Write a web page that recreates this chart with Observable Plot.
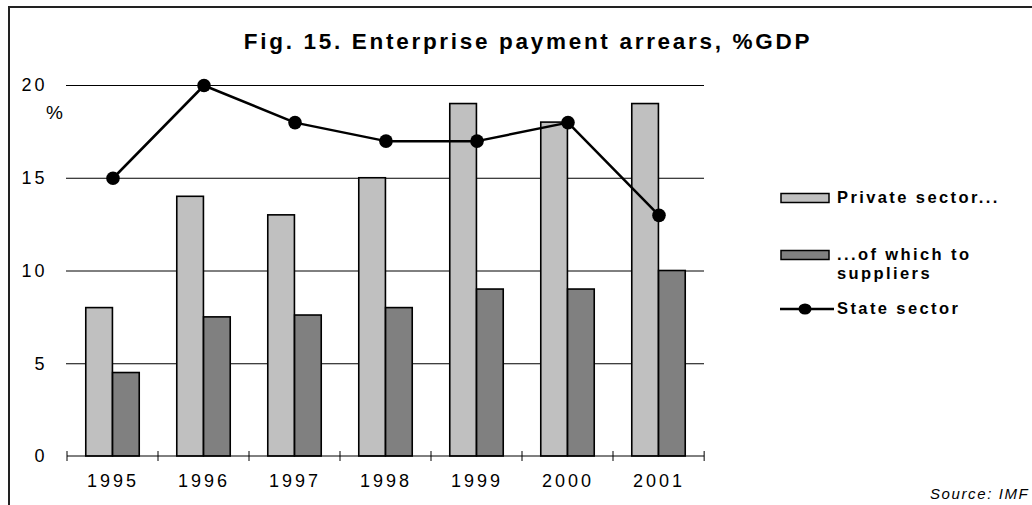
<!DOCTYPE html>
<html>
<head>
<meta charset="utf-8">
<script src="https://cdn.jsdelivr.net/npm/d3@7"></script>
<script src="https://cdn.jsdelivr.net/npm/@observablehq/plot@0.6"></script>
<style>
  body { margin: 0; background: #fff; font-family: "Liberation Sans", Arial, sans-serif; }
  #wrap { position: relative; width: 1032px; height: 505px; overflow: hidden; }
  #frame { position: absolute; left: 8px; top: 6px; width: 1100px; height: 600px; border: 2px solid #222; box-sizing: border-box; }
  #title { position: absolute; left: 0; width: 1056px; top: 29px; text-align: center; font-weight: bold; font-size: 22.5px; letter-spacing: 2.7px; line-height: 26px; }
  #pct { position: absolute; left: 46px; top: 102px; font-size: 19px; }
  #legend { position: absolute; left: 780px; top: 0; font-weight: bold; font-size: 16.5px; letter-spacing: 2.4px; }
  .item { position: absolute; white-space: nowrap; }
  .item svg { position: absolute; left: 0; }
  .item span { position: absolute; left: 57px; line-height: 19px; }
  #source { position: absolute; left: 930px; top: 485px; font-style: italic; font-size: 15px; letter-spacing: 1.6px; white-space: nowrap; }
  #chart svg text { letter-spacing: 3px; }
  #chart { position: absolute; left: 0; top: 0; }
</style>
</head>
<body>
<div id="wrap">
  <div id="frame"></div>
  <div id="chart"></div>
  <div id="title"></div>
  <div id="pct">%</div>
  <div id="legend"></div>
  <div id="source"></div>
</div>
<script>
const years = ["1995", "1996", "1997", "1998", "1999", "2000", "2001"];
const privateSector = [8, 14, 13, 15, 19, 18, 19];
const suppliers = [4.5, 7.5, 7.6, 8, 9, 9, 10];
const stateSector = [15, 20, 18, 17, 17, 18, 13];
const yTicks = [0, 5, 10, 15, 20];
const gridTicks = [5, 10, 15, 20];
const titleText = "Fig. 15. Enterprise payment arrears, %GDP";
const seriesNames = ["Private sector...", "...of which to\nsuppliers", "State sector"];
const sourceText = "Source: IMF";

const W = 1032, H = 505;
const mL = 66, mR = 328, mT = 85, mB = 49;
const bw = (W - mL - mR) / years.length;
const barW = 26.8;

const privData = years.map((y, i) => ({year: y, value: privateSector[i]}));
const supData = years.map((y, i) => ({year: y, value: suppliers[i]}));
const stateData = years.map((y, i) => ({year: y, value: stateSector[i]}));

function xAxisMark(index, scales, values, dimensions) {
  const g = d3.create("svg:g");
  const x = scales.x;
  const y0 = scales.y(0);
  const xs = years.map(y => x(y)).concat([x(years[years.length - 1]) + bw]);
  g.append("line")
    .attr("x1", xs[0]).attr("x2", xs[xs.length - 1])
    .attr("y1", y0).attr("y2", y0)
    .attr("stroke", "#000").attr("stroke-width", 1);
  for (const xv of xs) {
    g.append("line")
      .attr("x1", xv).attr("x2", xv)
      .attr("y1", y0 - 5).attr("y2", y0 + 5)
      .attr("stroke", "#000").attr("stroke-width", 1);
  }
  return g.node();
}

const chart = Plot.plot({
  width: W,
  height: H,
  marginLeft: mL,
  marginRight: mR,
  marginTop: mT,
  marginBottom: mB,
  style: {fontFamily: "Liberation Sans, Arial, sans-serif", fontSize: "18px", color: "#000", background: "transparent"},
  x: {type: "band", domain: years, padding: 0, label: null},
  y: {domain: [0, 20], label: null},
  marks: [
    Plot.ruleY(gridTicks, {stroke: "#000", strokeWidth: 1}),
    Plot.axisY(yTicks, {tickSize: 0, tickPadding: 19, fontSize: 18, label: null}),
    Plot.axisX({tickSize: 0, tickPadding: 18, fontSize: 18, label: null}),
    Plot.barY(privData, {x: "year", y: "value", fill: "#c0c0c0", stroke: "#000", strokeWidth: 1.6,
      insetLeft: bw / 2 - barW, insetRight: bw / 2}),
    Plot.barY(supData, {x: "year", y: "value", fill: "#808080", stroke: "#000", strokeWidth: 1.6,
      insetLeft: bw / 2, insetRight: bw / 2 - barW}),
    xAxisMark,
    Plot.lineY(stateData, {x: "year", y: "value", stroke: "#000", strokeWidth: 2.5}),
    Plot.dot(stateData, {x: "year", y: "value", r: 6.8, fill: "#000", stroke: "none"})
  ]
});
document.getElementById("chart").appendChild(chart);

document.getElementById("title").textContent = titleText;
document.getElementById("source").textContent = sourceText;

// Legend
const legend = document.getElementById("legend");
const items = [
  {top: 188, kind: "bar", fill: "#c0c0c0", text: seriesNames[0]},
  {top: 245, kind: "bar", fill: "#808080", text: seriesNames[1]},
  {top: 299, kind: "line", text: seriesNames[2]}
];
for (const it of items) {
  const div = document.createElement("div");
  div.className = "item";
  div.style.top = it.top + "px";
  const s = d3.create("svg").attr("width", 56).attr("height", 20);
  if (it.kind === "bar") {
    s.append("rect").attr("x", 1).attr("y", 5.5).attr("width", 48).attr("height", 9)
      .attr("fill", it.fill).attr("stroke", "#000").attr("stroke-width", 1.5);
  } else {
    s.append("line").attr("x1", 0).attr("x2", 54).attr("y1", 10).attr("y2", 10)
      .attr("stroke", "#000").attr("stroke-width", 2.5);
    s.append("ellipse").attr("cx", 25).attr("cy", 10).attr("rx", 6.5).attr("ry", 5.5).attr("fill", "#000");
  }
  div.appendChild(s.node());
  const span = document.createElement("span");
  span.innerHTML = it.text.split("\n").join("<br>");
  div.appendChild(span);
  legend.appendChild(div);
}
</script>
</body>
</html>
